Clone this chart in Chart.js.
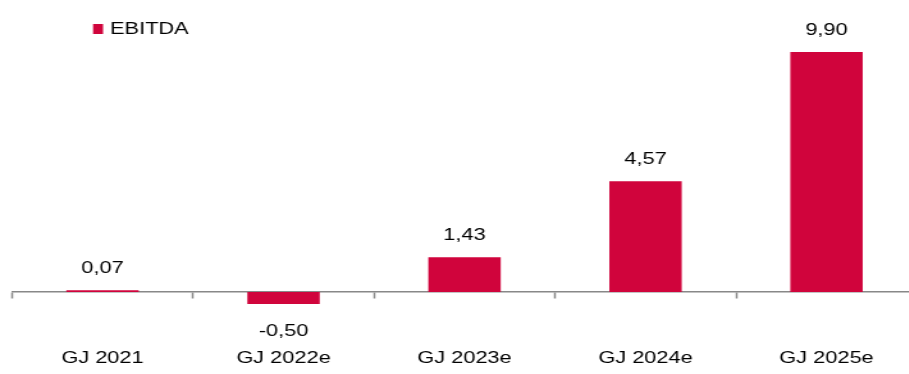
<!DOCTYPE html>
<html>
<head>
<meta charset="utf-8">
<script src="https://cdn.jsdelivr.net/npm/chart.js@4/dist/chart.umd.min.js"></script>
<style>
  html, body { margin: 0; padding: 0; background: #fff; overflow: hidden; width: 909px; height: 374px; }
  #wrap { width: 720px; height: 374px; transform: scaleX(1.28); transform-origin: 0 0; }
  canvas { display: block; }
</style>
</head>
<body>
<div id="wrap"><canvas id="chart" width="720" height="374"></canvas></div>
<script>
// Fiscal years and EBITDA (in EUR million)
const categories = ['GJ 2021', 'GJ 2022e', 'GJ 2023e', 'GJ 2024e', 'GJ 2025e'];
const ebitda = [0.07, -0.50, 1.43, 4.57, 9.90];
const seriesName = 'EBITDA';

const BAR_COLOR = '#D0043C';
const FONT = "'Liberation Sans', Arial, sans-serif";

const fmt = v => v.toFixed(2).replace('.', ',');

// Value labels above positive bars and below negative ones
const valueLabels = {
  id: 'valueLabels',
  afterDatasetsDraw(chart) {
    const ctx = chart.ctx;
    const meta = chart.getDatasetMeta(0);
    ctx.save();
    ctx.font = '17px ' + FONT;
    ctx.fillStyle = '#000';
    ctx.textAlign = 'center';
    ctx.textBaseline = 'middle';
    meta.data.forEach((bar, i) => {
      const v = chart.data.datasets[0].data[i];
      const y = v >= 0 ? bar.y - 22 : bar.y + 27;
      ctx.fillText(fmt(v), bar.x, y);
    });
    ctx.restore();
  }
};

// Legend drawn in the upper-left corner of the plot
const cornerLegend = {
  id: 'cornerLegend',
  afterDraw(chart) {
    const ctx = chart.ctx;
    const ds = chart.data.datasets[0];
    ctx.save();
    ctx.fillStyle = ds.backgroundColor;
    ctx.fillRect(72.7, 24, 7.8, 10);
    ctx.font = '17px ' + FONT;
    ctx.fillStyle = '#000';
    ctx.textAlign = 'left';
    ctx.textBaseline = 'middle';
    ctx.fillText(ds.label, 86, 29.5);
    ctx.restore();
  }
};

new Chart(document.getElementById('chart'), {
  type: 'bar',
  data: {
    labels: categories,
    datasets: [{
      label: seriesName,
      data: ebitda,
      backgroundColor: BAR_COLOR,
      borderWidth: 0,
      barPercentage: 0.4,
      categoryPercentage: 1.0
    }]
  },
  options: {
    responsive: false,
    animation: false,
    devicePixelRatio: 1,
    layout: { padding: { left: 9.4, right: 3.6, top: 25.33, bottom: 9.27 } },
    plugins: {
      legend: { display: false },
      tooltip: { enabled: false }
    },
    scales: {
      x: {
        position: { y: 0 },
        // the axis sits on the zero line, so it reserves no layout space
        afterFit: s => { s.height = 0; s.paddingLeft = 0; s.paddingRight = 0; },
        offset: true,
        grid: {
          offset: true,
          drawOnChartArea: false,
          drawTicks: true,
          tickLength: 6,
          tickWidth: 1.5,
          tickColor: '#888'
        },
        border: { display: true, color: '#888', width: 1.5 },
        ticks: {
          color: '#000',
          font: { family: FONT, size: 17 },
          padding: 50,
          maxRotation: 0,
          autoSkip: false
        }
      },
      y: {
        display: false,
        min: -3,
        max: 11
      }
    }
  },
  plugins: [valueLabels, cornerLegend]
});
</script>
</body>
</html>
